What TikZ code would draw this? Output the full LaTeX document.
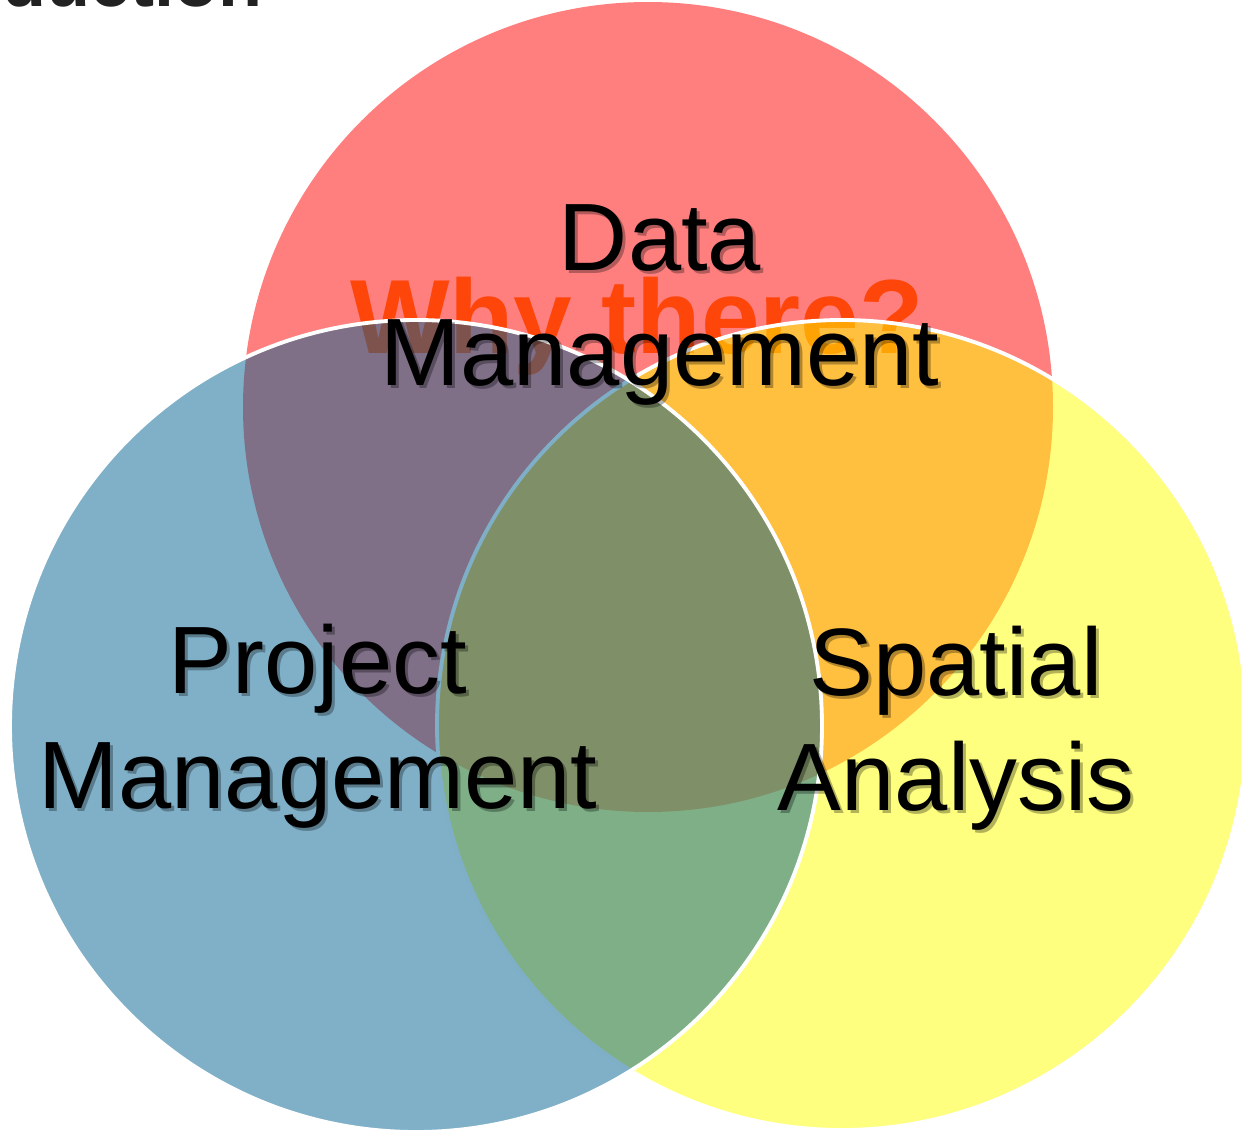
\documentclass[tikz,border=0pt]{standalone}
\usepackage{fontspec}
\setmainfont{Liberation Sans}
\usepackage{tikz}
\definecolor{vennred}{RGB}{255,0,0}
\definecolor{vennyellow}{RGB}{255,255,0}
\definecolor{vennblue}{RGB}{1,97,145}
\definecolor{whyred}{RGB}{255,70,10}
\definecolor{titlegray}{RGB}{34,34,34}
\tikzstyle{setcircle} = [fill opacity=0.5, draw=white, line width=2.2pt]
\tikzstyle{label} = [align=center, anchor=base, inner sep=0pt, text=black, font=\fontsize{54.5}{65.4}\selectfont]
\tikzstyle{labelshadow} = [label, text=black, text opacity=0.3, xshift=3*0.02cm, yshift=-3*0.02cm]

\begin{document}
\begin{tikzpicture}[x=0.02cm, y=-0.02cm]
\useasboundingbox (0,0) rectangle (1241,1132);
\clip (0,0) rectangle (1241,1132);

% heading, cut at the top
\node (title) [anchor=base east, inner sep=0pt, text=titlegray, font=\fontsize{41}{49}\selectfont\bfseries] at (263,7) {Introduction};

%---------------------------------CIRCLES
\fill [vennred, fill opacity=0.5] (648,407) circle [radius=405];
\node (why) [anchor=base, inner sep=0pt, text=whyred, font=\fontsize{60}{70}\selectfont\bfseries] at (637,353) {Why there?};
\filldraw [setcircle, fill=vennyellow] (842,725) circle [radius=405];
\filldraw [setcircle, fill=vennblue] (416,726) circle [radius=406];

%---------------------------------LABELS (base = last line)
\node (datas) [labelshadow] at (660,385) {Data\\Management};
\node (data) [label] at (660,385) {Data\\Management};
\node (projs) [labelshadow] at (318,808) {Project\\Management};
\node (proj) [label] at (318,808) {Project\\Management};
\node (spats) [labelshadow] at (956,810) {Spatial\\Analysis};
\node (spat) [label] at (956,810) {Spatial\\Analysis};

\end{tikzpicture}
\end{document}
